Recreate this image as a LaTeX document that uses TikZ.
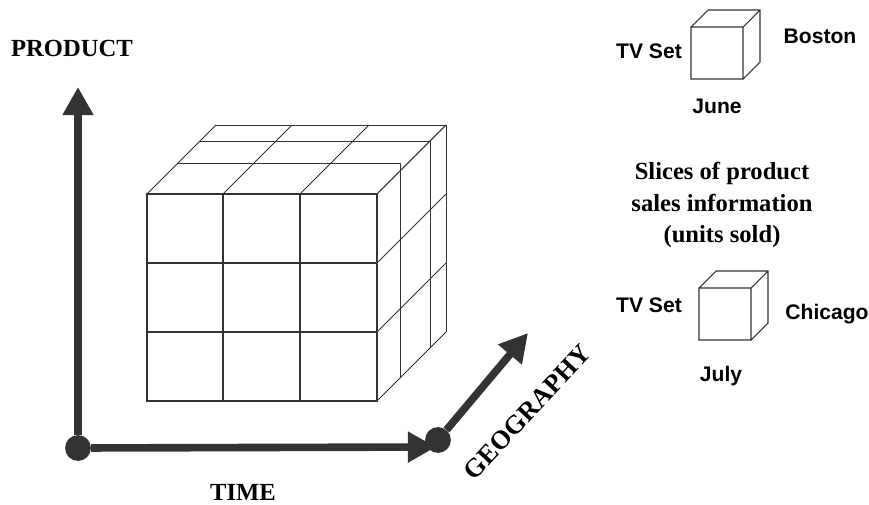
\documentclass[tikz,border=0pt]{standalone}
\usepackage{fontspec}
\setmainfont{Liberation Serif}
\newfontfamily\helvfont{Liberation Sans}
\usetikzlibrary{arrows.meta}

\begin{document}
\begin{tikzpicture}
		[x=0.03cm,y=-0.03cm,
		axis/.style={draw=black!80,line width=6.5pt,-{Triangle[length=24pt,width=25pt]}},
		axisdot/.style={circle,fill=black!80,inner sep=0pt,minimum size=22pt},
		face/.style={draw=black!80,line width=0.95pt},
		depth/.style={draw=black!80,line width=0.75pt},
		slice/.style={draw=black!80,line width=0.9pt},
		title/.style={font=\fontsize{21}{26.5}\selectfont\bfseries},
		tag/.style={font=\helvfont\fontsize{18}{21}\selectfont\bfseries}]
		\useasboundingbox (0,0) rectangle (869,505);
		\foreach \cx in {147,223,300,377} \draw[depth] (\cx,194) -- ++(69,-69);
		\foreach \cy in {194,263,332,401} \draw[depth] (377,\cy) -- ++(69,-69);
		\foreach \a/\b in {31/23,53/53,69/69}
			\draw[depth] (147+\a,194-\a) -- (377+\b,194-\a) -- (377+\b,401-\b);
		\draw[face] (147,194) rectangle (377,401);
		\foreach \cx in {223,300} \draw[face] (\cx,194) -- (\cx,401);
		\foreach \cy in {263,332} \draw[face] (147,\cy) -- (377,\cy);
		\node at (78,448) (origin) [axisdot] {};
		\node at (438,440) (geodot) [axisdot] {};
		\coordinate (prodtip) at (78,87);
		\coordinate (timetip) at (436,447);
		\coordinate (geotip) at (528,333);
		\draw[axis] (origin) -- (prodtip);
		\draw[axis] (origin) -- (timetip);
		\draw[axis] (geodot) -- (geotip);
		\node at (72,56) (product) [title,anchor=base] {PRODUCT};
		\node at (243,500) (time) [title,anchor=base] {TIME};
		\node at (527,412) (geography) [title,font=\fontsize{22.5}{26}\selectfont\bfseries,rotate=47] {GEOGRAPHY};
		\node at (722,205) (slices) [title,align=center] {Slices of product\\sales information\\(units sold)};
		\foreach \cx/\cy in {691/27,699/288}
			\draw[slice] (\cx,\cy) rectangle ++(52,52)
				(\cx,\cy) -- ++(17,-17) -- ++(52,0) -- ++(0,52) -- ++(-17,17)
				(\cx+52,\cy) -- ++(17,-17);
		\node at (649,58) (set1) [tag,anchor=base] {TV Set};
		\node at (820,43) (boston) [tag,anchor=base] {Boston};
		\node at (717,113) (june) [tag,anchor=base] {June};
		\node at (649,312) (set2) [tag,anchor=base] {TV Set};
		\node at (827,319) (chicago) [tag,anchor=base] {Chicago};
		\node at (721,381) (july) [tag,anchor=base] {July};
	\end{tikzpicture}
\end{document}
